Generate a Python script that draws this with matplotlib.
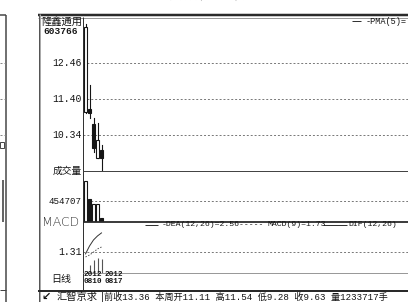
import matplotlib
matplotlib.use('Agg')
import matplotlib.pyplot as plt
from matplotlib.lines import Line2D
from matplotlib.patches import Rectangle

W, H = 408, 302

# weekly bars
dates = ['2012\n0810', '2012\n0817']
opens = [11.02, 11.11, 10.66, 9.66, 9.90]
closes = [13.52, 10.99, 9.96, 10.19, 9.66]
highs = [13.61, 11.81, 10.84, 10.70, 10.05]
lows = [11.00, 10.84, 9.84, 9.66, 9.31]
volumes = [887000, 498000, 390000, 390000, 87000]
vol_hollow = [True, False, True, True, False]
dif = [1.19, 1.68, 2.06, 2.31, 2.50]
dea = [1.00, 1.12, 1.30, 1.50, 1.62]
macd = [0.0, 0.50, 0.81, 0.94, 0.87]
price_ticks = [12.46, 11.40, 10.34]
vol_ticks = [454707]
macd_ticks = [1.31]

MONO = ['Liberation Mono', 'Noto Sans CJK SC']
CJK = ['Noto Sans CJK SC', 'DejaVu Sans']
INK = '#151515'

fig = plt.figure(figsize=(W / 100, H / 100), dpi=100)
fig.patch.set_facecolor('white')


def rect(x0, y0, x1, y1):
    return [x0 / W, 1 - y1 / H, (x1 - x0) / W, (y1 - y0) / H]


def hline(y, x0, x1, color='#333', lw=1.0, **kw):
    fig.add_artist(Line2D([x0 / W, x1 / W], [1 - y / H] * 2, color=color,
                          lw=lw * 0.72, solid_capstyle='butt', **kw))


def vline(x, y0, y1, color='#333', lw=1.0, **kw):
    fig.add_artist(Line2D([x / W] * 2, [1 - y0 / H, 1 - y1 / H], color=color,
                          lw=lw * 0.72, solid_capstyle='butt', **kw))


def txt(x, y, s, ha='left', size=7, family=MONO, color=INK, **kw):
    fig.text(x / W, 1 - y / H, s, ha=ha, va='center', fontsize=size,
             family=family, color=color, **kw)


xlim = (-0.625, (W - 83) / 4 - 0.625)


def panel(y0, y1, ylim):
    ax = fig.add_axes(rect(83, y0, W, y1))
    ax.set_xlim(*xlim)
    ax.set_ylim(*ylim)
    ax.axis('off')
    return ax


def grid(ax, ticks):
    for t in ticks:
        ax.axhline(t, color='#777', lw=0.7, ls=(0, (2, 2)), zorder=0)


# price panel
axp = panel(17, 171, (9.28, 13.815))
grid(axp, price_ticks)
for i, (o, c, h, l) in enumerate(zip(opens, closes, highs, lows)):
    axp.plot([i, i], [l, h], color=INK, lw=0.8, zorder=2)
    up = c > o
    axp.add_patch(Rectangle((i - 0.4, min(o, c)), 0.8, abs(c - o),
                            facecolor='white' if up else INK,
                            edgecolor=INK, lw=0.8, zorder=3))

# volume panel
axv = panel(171, 222, (0, 1104300))
grid(axv, vol_ticks)
for i, (v, hollow) in enumerate(zip(volumes, vol_hollow)):
    axv.add_patch(Rectangle((i - 0.4, 0), 0.8, v,
                            facecolor='white' if hollow else INK,
                            edgecolor=INK, lw=0.8, zorder=3))

# MACD panel
axm = panel(222, 273, (0, 3.18))
grid(axm, macd_ticks)
idx = list(range(len(dif)))
axm.plot(idx, dif, color='#333', lw=0.7)
axm.plot(idx, dea, color='#555', lw=0.7, ls=(0, (1.5, 1.5)))
axm.vlines(idx, 0, macd, color='#555', lw=0.8)

# frames of the window
vline(6, 15, H, '#444', 1.5)
hline(15, 0, 6, '#444', 1.5)
for y in (63, 99, 135):
    hline(y, 0, 5, '#888', 1, ls=(0, (2, 2)))
fig.add_artist(Rectangle((0, 1 - 148 / H), 4 / W, 6 / H, fill=False,
                         edgecolor='#444', lw=0.7, transform=fig.transFigure))
vline(3, 180, 222, '#333', 1.5)
hline(290, 0, 6, '#444', 1)

hline(15, 38, W, '#2a2a2a', 2.5)
hline(17.5, 38, W, '#999', 1)
vline(38.5, 14, H, '#555', 1)
vline(40, 14, H, '#aaa', 1)
vline(83, 17, 290, '#333', 1)
hline(171, 83, W, '#444', 1)
hline(221.5, 83, W, '#2a2a2a', 1.8)
hline(273, 83, W, '#999', 1)
hline(290.5, 38, W, '#2a2a2a', 2)
vline(102, 291, H, '#444', 1)

# cut-off title at the very top (only its lower edge shows)
txt(228, -4, '隆鑫通用(603766)  周线  前复权', ha='center', size=7,
    family=CJK, color='#aaa')

# label column
txt(41, 22, '隆鑫通用', size=7.4, family=CJK)
txt(78, 32, '603766', ha='right', size=6.8, weight='bold')
for t, y in zip(price_ticks, (63, 99, 135)):
    txt(82, y, f'{t:.2f}', ha='right', size=7)
txt(82, 171, '成交量', ha='right', size=7, family=CJK)
txt(82, 201, f'{vol_ticks[0]}', ha='right', size=6.6)
txt(42, 222, 'MACD', size=9, family=['DejaVu Sans'], weight='light',
    color='#333')
txt(82, 252, f'{macd_ticks[0]:.2f}', ha='right', size=7)
txt(51, 279, '日线', size=7.2, family=CJK)
for k, d in enumerate(dates):
    txt(83.5 + 21 * k, 278, d, size=5.6, weight='bold', linespacing=0.85)

# legends
hline(21, 352, 361, '#333', 1)
txt(366, 21, '-PMA(5)=', size=6.2)
hline(225, 145, 158, '#333', 1)
txt(162, 225, '-DEA(12,26)=2.56-----', size=5.9)
txt(267, 225, 'MACD(9)=1.73', size=5.9)
hline(225, 323, 347, '#333', 1)
txt(348, 225, 'DIF(12,26)', size=5.9)

# status bar
txt(41, 297, '↙', size=8, family=['DejaVu Sans'], weight='bold')
txt(57, 297, '汇智京求', size=7.4, family=CJK)
txt(104, 297, '前收13.36 本周开11.11 高11.54 低9.28 收9.63 量1233717手',
    size=6.6)

fig.savefig('out.png', dpi=100, facecolor='white')
